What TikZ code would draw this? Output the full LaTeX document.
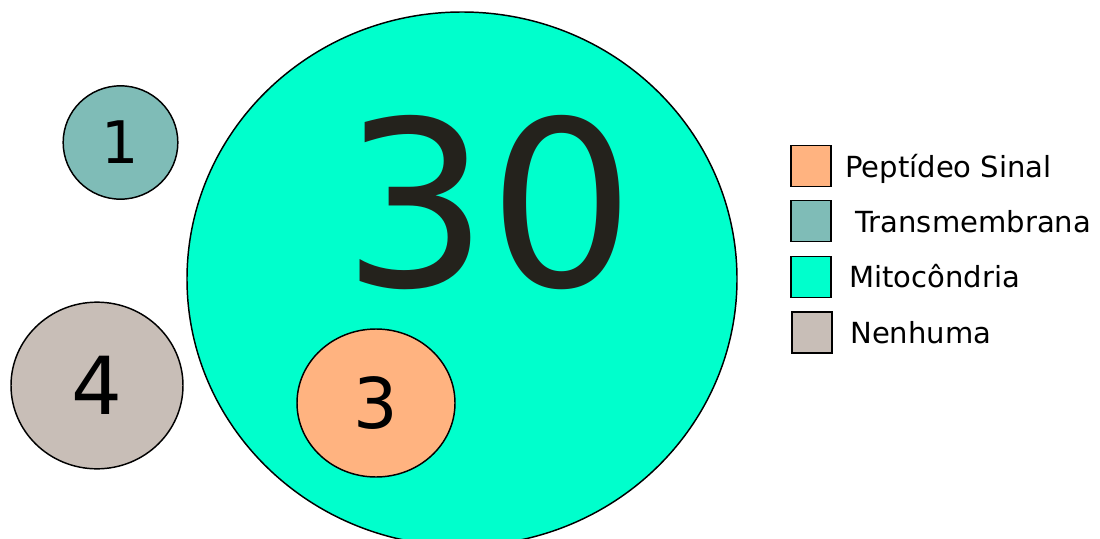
\documentclass[tikz,border=0pt]{standalone}
\usepackage{fontspec}
\setmainfont{DejaVu Sans}
\usetikzlibrary{shapes.geometric}
\definecolor{mint}{HTML}{00FFCC}
\definecolor{tealc}{HTML}{7FBCB7}
\definecolor{greyc}{HTML}{C8BEB7}
\definecolor{peach}{HTML}{FFB380}
\definecolor{darktxt}{HTML}{24221C}
\tikzset{
  blob/.style={ellipse, draw=black, line width=1.1pt, inner sep=0pt, outer sep=0pt},
  legbox/.style={rectangle, draw=black, line width=1.1pt, inner sep=0pt, minimum width=30pt, minimum height=31pt},
  legtxt/.style={anchor=base west, inner sep=0pt, font=\fontsize{21.8}{25}\selectfont}
}
\begin{document}
\begin{tikzpicture}[x=0.75pt, y=-0.75pt]
\useasboundingbox (0,0) rectangle (1100,539);
% big circle
\node[blob, fill=mint, minimum width=412.5pt, minimum height=400.5pt] (mito) at (462,279) {};
\node[inner sep=0pt, text=darktxt, font=\fontsize{173}{173}\selectfont] (mitonum) at (489,202.5) {30};
% small circles
\node[blob, fill=tealc, minimum width=86pt, minimum height=85pt,
      font=\fontsize{44}{44}\selectfont] (trans) at (120.5,142.5) {1};
\node[blob, fill=greyc, minimum width=129pt, minimum height=125pt,
      font=\fontsize{60}{60}\selectfont] (none) at (97,385.5) {4};
\node[blob, fill=peach, minimum width=118.5pt, minimum height=111pt,
      font=\fontsize{52.5}{52.5}\selectfont] (sig) at (376,403) {3};
% legend
\node[legbox, fill=peach] (b1) at (811,166) {};
\node[legbox, fill=tealc] (b2) at (811,221) {};
\node[legbox, fill=mint]  (b3) at (811,277) {};
\node[legbox, fill=greyc] (b4) at (812,332.5) {};
\node[legtxt] (t1) at (845,177) {Peptídeo Sinal};
\node[legtxt] (t2) at (855,232) {Transmembrana};
\node[legtxt] (t3) at (849,287) {Mitocôndria};
\node[legtxt] (t4) at (850,343) {Nenhuma};
\end{tikzpicture}
\end{document}
